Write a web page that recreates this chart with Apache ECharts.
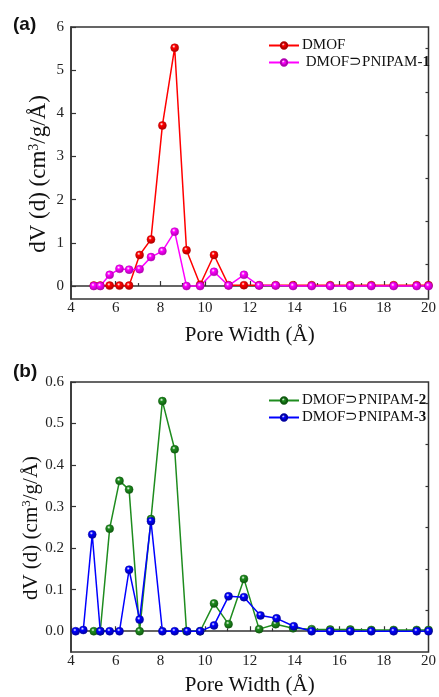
<!DOCTYPE html>
<html><head><meta charset="utf-8">
<script src="https://cdn.jsdelivr.net/npm/echarts@6/dist/echarts.min.js"></script>
<style>html,body{margin:0;padding:0;background:#fff}#c{width:439px;height:697px}</style>
</head><body><div id="c"></div>
<script>
// ---- data ----
const xA = [5.02,5.31,5.73,6.17,6.6,7.07,7.58,8.09,8.64,9.17,9.78,10.4,11.05,11.74,12.42,13.16,13.94,14.77,15.6,16.5,17.44,18.44,19.47,20.0];
const dmof = [0.01,0.01,0.01,0.01,0.01,0.72,1.08,3.72,5.52,0.83,0.03,0.72,0.02,0.02,0.02,0.02,0.02,0.02,0.02,0.02,0.02,0.02,0.02,0.02];
const pnipam1 = [0,0,0.26,0.40,0.38,0.39,0.67,0.81,1.26,0,0,0.33,0.01,0.26,0.01,0.01,0,0,0,0,0,0,0,0];
const xB2 = [5.02,5.31,5.73,6.17,6.6,7.07,7.58,8.09,8.64,9.17,9.78,10.4,11.05,11.74,12.42,13.16,13.94,14.77,15.6,16.5,17.44,18.44,19.47,20.0];
const pnipam2 = [0,0,0.247,0.362,0.341,0,0.27,0.554,0.438,0,0,0.067,0.017,0.126,0.005,0.017,0.007,0.005,0.004,0.004,0.003,0.003,0.003,0.003];
const xB3 = [4.21,4.55,4.95,5.31,5.73,6.17,6.6,7.07,7.58,8.09,8.64,9.2,9.78,10.4,11.05,11.74,12.48,13.2,13.97,14.77,15.6,16.5,17.44,18.44,19.47,20.0];
const pnipam3 = [0,0.003,0.233,0,0,0,0.148,0.028,0.265,0,0,0,0,0.014,0.084,0.082,0.038,0.031,0.012,0,0,0,0,0,0,0];
const namesA = ['DMOF','DMOF⊃PNIPAM-1'];
const namesB = ['DMOF⊃PNIPAM-2','DMOF⊃PNIPAM-3'];
const yTicksA = [0,1,2,3,4,5,6];
const yMinorA = [0.5,1.5,2.5,3.5,4.5,5.5];
const yTicksB = [0,0.1,0.2,0.3,0.4,0.5,0.6];
const yMinorB = [0.05,0.15,0.25,0.35,0.45,0.55];
const xTitle = 'Pore Width (Å)';
const yTitle = 'dV (d) (cm{sup|3}/g/Å)';

const pair = (xs, ys) => xs.map((x, i) => [x, ys[i]]);
const serif = 'Liberation Serif';
const axisCol = '#333';

function xAx(gi) {
  return {
    type: 'value', gridIndex: gi, min: 4, max: 20, interval: 2,
    name: xTitle, nameLocation: 'middle', nameGap: gi === 0 ? 26 : 23,
    nameTextStyle: { fontFamily: serif, fontSize: 21, color: '#111' },
    axisLine: { lineStyle: { color: axisCol, width: 1.5 } },
    axisTick: { inside: true, length: 5, lineStyle: { color: axisCol, width: 1.2 } },
    minorTick: { show: true, splitNumber: 2, length: 3, lineStyle: { color: axisCol, width: 1.2 } },
    axisLabel: { fontFamily: serif, fontSize: 15, color: '#222', margin: 2 },
    splitLine: { show: false }
  };
}
function yMajor(gi, min, max, ticks, dec) {
  return {
    type: 'value', gridIndex: gi, min: min, max: max,
    axisLine: { lineStyle: { color: axisCol, width: 1.5 } },
    axisTick: { inside: true, length: 5, customValues: ticks, lineStyle: { color: axisCol, width: 1.2 } },
    axisLabel: { fontFamily: serif, fontSize: 15, color: '#222', margin: 7, customValues: ticks,
      formatter: v => Number(v).toFixed(dec) },
    splitLine: { show: false }
  };
}
function yMinor(gi, min, max, ticks) {
  return {
    type: 'value', gridIndex: gi, min: min, max: max,
    axisLine: { show: false },
    axisTick: { inside: true, length: 3, customValues: ticks, lineStyle: { color: axisCol, width: 1.2 } },
    axisLabel: { show: false }, splitLine: { show: false }
  };
}
function ball(color, dark) {
  return new echarts.graphic.RadialGradient(0.4, 0.35, 0.65, [
    { offset: 0, color: '#ffffff' }, { offset: 0.3, color: color }, { offset: 1, color: dark }
  ]);
}
function ser(name, xi, yi, data, color, dark) {
  return {
    type: 'line', name: name, xAxisIndex: xi, yAxisIndex: yi, data: data,
    symbol: 'circle', symbolSize: 8, showSymbol: true,
    lineStyle: { color: color, width: 1.5 },
    itemStyle: { color: ball(color, dark), borderColor: dark, borderWidth: 0.5 },
    emphasis: { disabled: true }, animation: false, z: 3
  };
}
function legend(names, top, size, lead) {
  return {
    data: names, left: 268, top: top, orient: 'vertical', padding: 0,
    itemWidth: 30, itemHeight: 8, itemGap: 18 - size - 1,
    textStyle: { fontFamily: serif, fontSize: size, color: '#111', padding: [0,0,0,-2],
      rich: { b: { fontFamily: serif, fontSize: size, fontWeight: 'bold', color: '#111' } } },
    formatter: n => (n.indexOf('-') > 0 ? lead : '') + n.replace(/-(\d)$/, '-{b|$1}'),
    selectedMode: false
  };
}
function yTitleGraphic(cx, cy, size) {
  return {
    type: 'text', x: cx, y: cy, rotation: Math.PI / 2,
    style: {
      text: yTitle, fontFamily: serif, fontSize: size, fill: '#111',
      align: 'center', verticalAlign: 'middle',
      rich: { sup: { fontFamily: serif, fontSize: Math.round(size * 0.6), fill: '#111', padding: [0,0,Math.round(size*0.45),0] } }
    }
  };
}

const option = {
  animation: false,
  grid: [
    { left: 71, top: 27, width: 361, height: 272, show: true, borderColor: axisCol, borderWidth: 1.5 },
    { left: 71, top: 382, width: 361, height: 274, show: true, borderColor: axisCol, borderWidth: 1.5 }
  ],
  xAxis: [xAx(0), xAx(1)],
  yAxis: [
    yMajor(0, -0.3, 6, yTicksA, 0), yMinor(0, -0.3, 6, yMinorA),
    yMajor(1, -0.05, 0.6, yTicksB, 1), yMinor(1, -0.05, 0.6, yMinorB)
  ],
  legend: [ legend(namesA, 38, 15, ' '), legend(namesB, 393, 15, '') ],
  graphic: [
    { type: 'text', left: 13, top: 15, style: { text: '(a)', font: 'bold 19px "Liberation Sans"', fill: '#111' } },
    { type: 'text', left: 13, top: 362, style: { text: '(b)', font: 'bold 19px "Liberation Sans"', fill: '#111' } },
    yTitleGraphic(39, 174, 23),
    yTitleGraphic(31, 528, 21)
  ],
  series: [
    ser(namesA[0], 0, 0, pair(xA, dmof), '#ff0000', '#b00000'),
    ser(namesA[1], 0, 0, pair(xA, pnipam1), '#ff00ff', '#b000b0'),
    ser(namesB[0], 1, 2, pair(xB2, pnipam2), '#1e8c1e', '#0f5a0f'),
    ser(namesB[1], 1, 2, pair(xB3, pnipam3), '#0000ff', '#0000a0')
  ]
};
const chart = echarts.init(document.getElementById('c'), null, { renderer: 'canvas' });
chart.setOption(option);
</script></body></html>
